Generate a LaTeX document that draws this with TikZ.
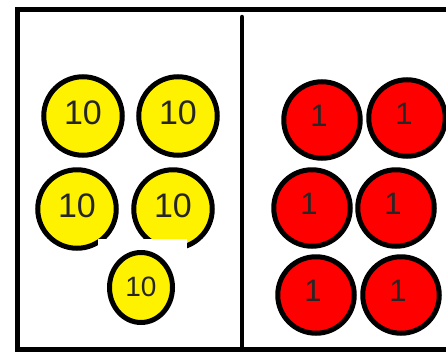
\documentclass[tikz,border=0pt]{standalone}
\usepackage{fontspec}
\setmainfont{Liberation Sans}
\usepackage{tikz}
\usetikzlibrary{shapes.geometric}

\newcommand{\onetxt}{\makebox[0pt]{\hspace*{-6pt}1}}

\begin{document}
\begin{tikzpicture}[x=1pt,y=-1pt,
  ten/.style={circle,draw,line width=5pt,fill=yellow,minimum size=78.5pt,inner sep=0pt,
    text=black!85,font=\fontsize{34}{34}\selectfont,text height=24pt,text depth=7.7pt},
  one/.style={circle,draw,line width=5pt,fill=red,minimum size=76.5pt,inner sep=0pt,
    text=black!85,font=\fontsize{31}{31}\selectfont,text height=22pt,text depth=9.8pt}]
  \useasboundingbox (0,0) rectangle (446,351);
  \clip (0,0) rectangle (446,351);
  % frame and divider
  \draw[line width=5pt] (17,9.5) rectangle (480,349.5);
  \draw[line width=4.5pt,line cap=round] (242,17) -- (242,349);
  % tens
  \node[ten] (t1) at (83,116) {10};
  \node[ten] (t2) at (178,116) {10};
  \node[ten] (t3) at (77,209) {10};
  \node[ten] (t4) at (173,209) {10};
  \fill[white] (98,239) rectangle (187,252);
  \node[ten,ellipse,minimum width=63pt,minimum height=70pt,
    font=\fontsize{28}{28}\selectfont,text height=20pt,text depth=3pt] (t5) at (141,287.5) {10};
  % ones
  \node[one] (o1) at (322,120) {\onetxt};
  \node[one] (o2) at (407,118) {\onetxt};
  \node[one] (o3) at (312,208) {\onetxt};
  \node[one] (o4) at (396,208) {\onetxt};
  \node[one] (o5) at (316,295) {\onetxt};
  \node[one] (o6) at (401,295) {\onetxt};
\end{tikzpicture}
\end{document}
